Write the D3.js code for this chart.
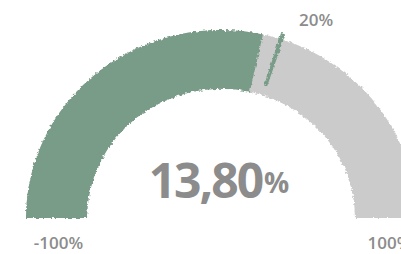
<!DOCTYPE html>
<html>
<head>
<meta charset="utf-8">
<script src="https://cdn.jsdelivr.net/npm/d3@7"></script>
<style>
  html, body { margin: 0; padding: 0; background: #fff; }
  svg { display: block; font-family: "Open Sans", "Noto Sans", sans-serif; }
</style>
</head>
<body>
<script>
(function(){

    //gauge data
    var gaugeExtent = [-100, 100];          //min and max of the dial
    var actualValues = [13.8];              //current value
    var targetValues = [20];                //target marker
    var endLabels = ["-100%", "100%"];      //labels under both ends
    var targetLabels = ["20%"];
    var valueLabels = ["13,80"];

    var width = 401,
        height = 254;

    //gauge geometry (slightly squashed vertically, as in the picture)
    var cx = 221, cy = 218,
        rInner = 134, rOuter = 195,
        squash = 0.964;

    var svg = d3.select("body")
        .append("svg")
        .attr("width", width)
        .attr("height", height);

    //rough brushed edge
    var defs = svg.append("defs");
    var rough = defs.append("filter")
        .attr("id", "rough")
        .attr("x", "-5%").attr("y", "-5%")
        .attr("width", "110%").attr("height", "110%");
    rough.append("feTurbulence")
        .attr("type", "fractalNoise")
        .attr("baseFrequency", 0.35)
        .attr("numOctaves", 2)
        .attr("seed", 3)
        .attr("result", "noise");
    rough.append("feDisplacementMap")
        .attr("in", "SourceGraphic")
        .attr("in2", "noise")
        .attr("scale", 4)
        .attr("xChannelSelector", "R")
        .attr("yChannelSelector", "G");

    //value -> angle
    var angle = d3.scaleLinear()
        .domain(gaugeExtent)
        .range([-Math.PI / 2, Math.PI / 2])
        .clamp(true);

    var arc = d3.arc()
        .innerRadius(rInner)
        .outerRadius(rOuter);

    var gauge = svg.append("g")
        .attr("transform", "translate(" + cx + "," + cy + ") scale(1," + squash + ")")
        .attr("filter", "url(#rough)");

    //background track
    gauge.append("path")
        .attr("d", arc({startAngle: angle(gaugeExtent[0]), endAngle: angle(gaugeExtent[1])}))
        .attr("fill", "#cbcbcb");

    //value bar
    gauge.selectAll(".value")
        .data(actualValues)
        .enter()
        .append("path")
        .attr("class", "value")
        .attr("d", function(d){
            return arc({startAngle: angle(gaugeExtent[0]), endAngle: angle(d)});
        })
        .attr("fill", "#789c87");

    //target marker
    var markerArc = d3.arc()
        .innerRadius(rInner + 10)
        .outerRadius(rOuter + 6);

    gauge.selectAll(".target")
        .data(targetValues)
        .enter()
        .append("path")
        .attr("class", "target")
        .attr("d", function(d){
            var a = angle(d);
            return markerArc({startAngle: a - 0.011, endAngle: a + 0.011});
        })
        .attr("fill", "#789c87");

    //helper to get screen position on the gauge
    function point(v, r){
        var a = angle(v);
        return [cx + r * Math.sin(a), cy - r * Math.cos(a) * squash];
    }

    //target label
    svg.selectAll(".target-label")
        .data(targetValues)
        .enter()
        .append("text")
        .attr("class", "target-label")
        .attr("x", function(d){ return point(d, rOuter + 6)[0] + 16; })
        .attr("y", function(d){ return point(d, rOuter + 6)[1] - 8; })
        .attr("fill", "#8c8c8c")
        .attr("font-size", 17)
        .attr("font-weight", 600)
        .text(function(d, i){ return targetLabels[i]; });

    //end labels
    svg.selectAll(".end-label")
        .data(gaugeExtent)
        .enter()
        .append("text")
        .attr("class", "end-label")
        .attr("x", function(d){ return point(d, (rInner + rOuter) / 2)[0] + (d < 0 ? 2 : 4); })
        .attr("y", 249)
        .attr("text-anchor", "middle")
        .attr("fill", "#8c8c8c")
        .attr("font-size", 17)
        .attr("font-weight", 600)
        .text(function(d, i){ return endLabels[i]; });

    //big value in the middle
    var big = svg.append("text")
        .attr("x", 218)
        .attr("y", 198)
        .attr("text-anchor", "middle")
        .attr("fill", "#8c8c8c")
        .attr("font-weight", 700)
        .attr("letter-spacing", -2);

    big.append("tspan")
        .attr("font-size", 48)
        .text(valueLabels[0]);

    big.append("tspan")
        .attr("font-size", 28)
        .attr("dy", -5)
        .attr("dx", 2)
        .text("%");

})();
</script>
</body>
</html>
